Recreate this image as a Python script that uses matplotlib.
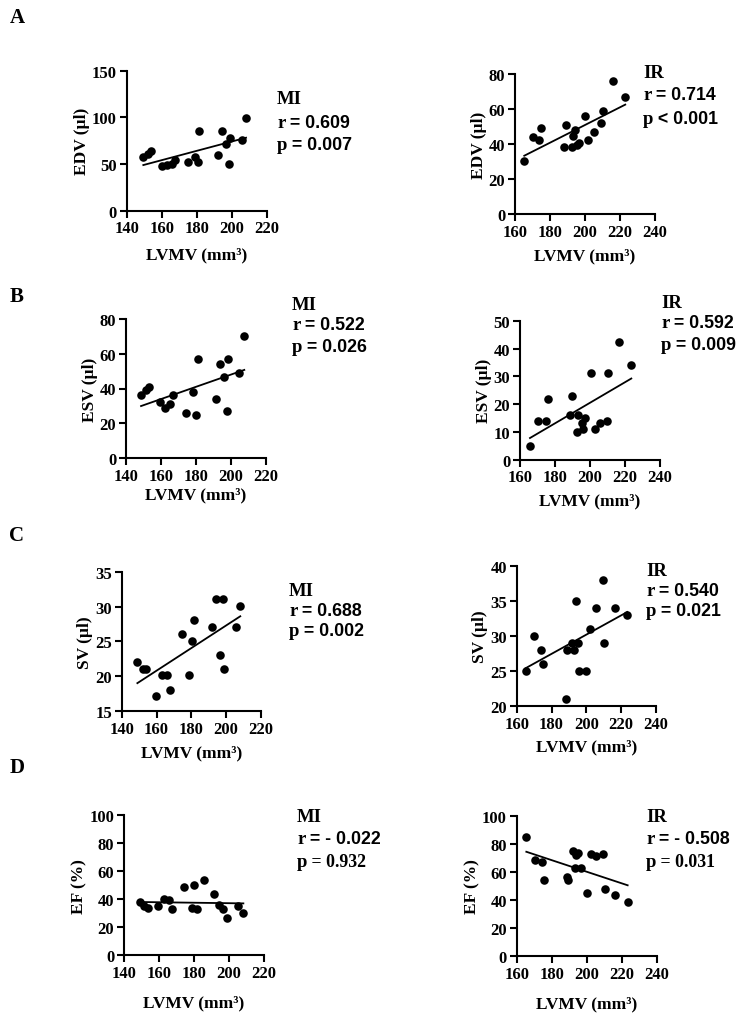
import matplotlib
matplotlib.use("Agg")
import matplotlib.pyplot as plt
import numpy as np
from matplotlib.offsetbox import TextArea, HPacker, AnnotationBbox

W, H = 738, 1020

# ---------------- data ----------------
mi_edv_x = [149.5, 152.4, 153.9, 160, 162.9, 165.7, 167.6, 175.2, 179, 180.9, 181.5, 192, 194.3, 196.8, 199, 198.7, 205.7, 208.2]
mi_edv_y = [57.1, 60.7, 63.9, 48.2, 48.9, 50, 54.6, 51.8, 57.1, 51.8, 85, 60, 85, 71, 78.2, 50, 76, 99.3]
mi_edv_fit = [48.9, 78.2]

ir_edv_x = [165.3, 170.1, 173.9, 175, 188, 189.1, 192.4, 193.3, 194.3, 195.6, 196.6, 200, 201.9, 205.1, 209.1, 210.1, 216.2, 223]
ir_edv_y = [30.1, 44.2, 42.1, 49.1, 38.1, 51, 38.1, 44.4, 48, 39.4, 40.6, 56, 42.3, 47, 52, 59, 76, 67]
ir_edv_fit = [33.3, 62.5]

mi_esv_x = [148.6, 151.4, 153, 159.6, 162.5, 165.3, 167, 174.3, 178.5, 180, 181, 191.4, 193.7, 195.8, 198.1, 197.7, 204.8, 207.6]
mi_esv_y = [36, 38.9, 40.6, 32.2, 28.9, 30.8, 36, 26, 37.9, 24.9, 57, 34.1, 54, 46.9, 57, 26.8, 49, 70]
mi_esv_fit = [29.9, 50.7]

ir_esv_x = [165.7, 170.5, 174.9, 175.8, 188.6, 189.7, 193.3, 192.8, 195.2, 195.8, 197.1, 200.6, 202.9, 205.7, 209.5, 210.5, 216.8, 223.6]
ir_esv_y = [5.0, 14, 14, 22, 16, 23, 16, 10.1, 13.1, 11, 15, 31.1, 11, 13.1, 14, 31.1, 42.2, 34]
ir_esv_fit = [7.8, 29.2]

mi_sv_x = [149, 152.4, 154, 159.7, 163, 165.8, 167.8, 174.8, 178.7, 180.6, 181.5, 191.7, 194, 198.4, 196.5, 199, 205.6, 208.1]
mi_sv_y = [22.0, 21.1, 21.1, 17.1, 20.1, 20.1, 18, 26.1, 20.1, 25.1, 28.1, 27.1, 31.1, 31.1, 23.0, 21, 27.1, 30.1]
mi_sv_fit = [19.0, 28.6]

ir_sv_x = [165.2, 170.1, 174, 175.1, 188.1, 188.7, 191.8, 193.1, 194.3, 195.4, 195.8, 200, 202.3, 205.4, 209.4, 210.3, 216.3, 223.5]
ir_sv_y = [25, 30, 28, 26, 21, 28, 29, 28, 35, 29, 25, 25, 31, 34, 38, 29, 34, 33]
ir_sv_fit = [25.4, 33.4]

mi_ef_x = [149.1, 151.6, 153.5, 159.6, 162.9, 165.7, 167.6, 174.5, 178.7, 180.2, 181.5, 185.7, 191.6, 194.3, 196.4, 198.7, 205.3, 208.2]
mi_ef_y = [38, 34.9, 33.7, 34.9, 40.1, 39.2, 33, 48.9, 33.7, 49.9, 33, 53.9, 43.9, 35.9, 33, 26.8, 34.9, 29.9]
mi_ef_fit = [38.0, 37.0]

ir_ef_x = [165.5, 170.5, 174.3, 175.6, 188.6, 189.5, 192.4, 193.9, 195.0, 193.3, 196.8, 200.4, 202.5, 205.3, 209.5, 210.5, 216.4, 223.4]
ir_ef_y = [84.6, 68.6, 66.7, 53.9, 56.5, 54.4, 74.8, 72.0, 73.5, 62.9, 62.9, 44.7, 72.7, 71.5, 72.7, 47.5, 43.5, 38.5]
ir_ef_fit = [74.3, 50.4]

mi_xticks = [140, 160, 180, 200, 220]
ir_xticks = [160, 180, 200, 220, 240]
edv_mi_yticks = [0, 50, 100, 150]
edv_ir_yticks = [0, 20, 40, 60, 80]
esv_mi_yticks = [0, 20, 40, 60, 80]
esv_ir_yticks = [0, 10, 20, 30, 40, 50]
sv_mi_yticks = [15, 20, 25, 30, 35]
sv_ir_yticks = [20, 25, 30, 35, 40]
ef_yticks = [0, 20, 40, 60, 80, 100]

ylabels = ["EDV (µl)", "ESV (µl)", "SV (µl)", "EF (%)"]
xlabel = "LVMV (mm³)"
panel_letters = ["A", "B", "C", "D"]

stats = [
    ("MI", "0.609", "= 0.007"), ("IR", "0.714", "< 0.001"),
    ("MI", "0.522", "= 0.026"), ("IR", "0.592", "= 0.009"),
    ("MI", "0.688", "= 0.002"), ("IR", "0.540", "= 0.021"),
    ("MI", "- 0.022", "= 0.932"), ("IR", "- 0.508", "= 0.031"),
]

# ---------------- layout (pixels: left, top, right, bottom) ----------------
boxes = [
    (126.7, 71.7, 266.7, 211.7), (515, 75, 655, 215),
    (126, 320, 266, 459), (520, 321.7, 660, 460.7),
    (121.7, 572.7, 261, 712), (516.7, 566.7, 656, 707),
    (124, 816, 264, 956.3), (516.7, 816.7, 656.7, 957),
]
xlabel_off = [44, 41, 36, 41, 41, 40, 47, 47]
stat_pos = [
    (277, 100, 23), (643, 73, 23),
    (292, 305, 21), (661, 303, 21),
    (289, 591, 20.5), (646, 572, 20),
    (297, 817, 23), (646, 817, 23),
]
letter_pos = [(17, 18), (17, 297), (17, 536), (17, 768)]

panels = [
    (mi_edv_x, mi_edv_y, mi_edv_fit, mi_xticks, edv_mi_yticks),
    (ir_edv_x, ir_edv_y, ir_edv_fit, ir_xticks, edv_ir_yticks),
    (mi_esv_x, mi_esv_y, mi_esv_fit, mi_xticks, esv_mi_yticks),
    (ir_esv_x, ir_esv_y, ir_esv_fit, ir_xticks, esv_ir_yticks),
    (mi_sv_x, mi_sv_y, mi_sv_fit, mi_xticks, sv_mi_yticks),
    (ir_sv_x, ir_sv_y, ir_sv_fit, ir_xticks, sv_ir_yticks),
    (mi_ef_x, mi_ef_y, mi_ef_fit, mi_xticks, ef_yticks),
    (ir_ef_x, ir_ef_y, ir_ef_fit, ir_xticks, ef_yticks),
]

SERIF = "Liberation Serif"
SANS = "Liberation Sans"

fig = plt.figure(figsize=(W / 100, H / 100), dpi=100)

for i, ((xs, ys, fit, xt, yt), (l, t, r, b)) in enumerate(zip(panels, boxes)):
    ax = fig.add_axes([l / W, 1 - b / H, (r - l) / W, (b - t) / H])
    ax.scatter(xs, ys, s=38, color="black", zorder=3, clip_on=False, linewidths=0)
    fx = [min(xs), max(xs)]
    ax.plot(fx, fit, color="black", lw=1.3, zorder=2, clip_on=False)
    ax.set_xlim(xt[0], xt[-1])
    ax.set_ylim(yt[0], yt[-1])
    ax.set_xticks(xt)
    ax.set_yticks(yt)
    for s in ["top", "right"]:
        ax.spines[s].set_visible(False)
    for s in ["left", "bottom"]:
        ax.spines[s].set_linewidth(1.5)
    ax.tick_params(width=1.5, length=5, direction="out", pad=2)
    for lab in ax.get_xticklabels() + ax.get_yticklabels():
        lab.set_fontfamily(SERIF)
        lab.set_fontweight("bold")
        lab.set_fontsize(12)
    ax.set_ylabel(ylabels[i // 2], fontfamily=SERIF, fontweight="bold", fontsize=12.5,
                  labelpad=1.5)
    ax.set_xlabel(xlabel, fontfamily=SERIF, fontweight="bold", fontsize=12.5, va="center")
    ax.xaxis.set_label_coords(0.5, -xlabel_off[i] / (b - t))

    # stats text
    grp, rval, pval = stats[i]
    sx, sy, dy = stat_pos[i]
    fig.text(sx / W, 1 - sy / H, grp, fontfamily=SERIF, fontweight="bold", fontsize=13.5,
             ha="left", va="center")
    p_font = SERIF if i >= 6 else SANS
    for k, (lead, rest, rest_font) in enumerate([("r", " = " + rval, SANS), ("p", " " + pval, p_font)]):
        ta1 = TextArea(lead, textprops=dict(family=SERIF, weight="bold", size=13.5))
        ta2 = TextArea(rest, textprops=dict(family=rest_font, weight="bold", size=12.8))
        hp = HPacker(children=[ta1, ta2], align="baseline", pad=0, sep=0)
        ab = AnnotationBbox(hp, (sx / W, 1 - (sy + dy * (k + 1)) / H), xycoords="figure fraction",
                            box_alignment=(0, 0.5), frameon=False, pad=0)
        fig.add_artist(ab)

for letter, (lx, ly) in zip(panel_letters, letter_pos):
    fig.text(lx / W, 1 - ly / H, letter, fontfamily=SERIF, fontweight="bold", fontsize=15,
             ha="center", va="center")

fig.savefig("out.png", dpi=100)
